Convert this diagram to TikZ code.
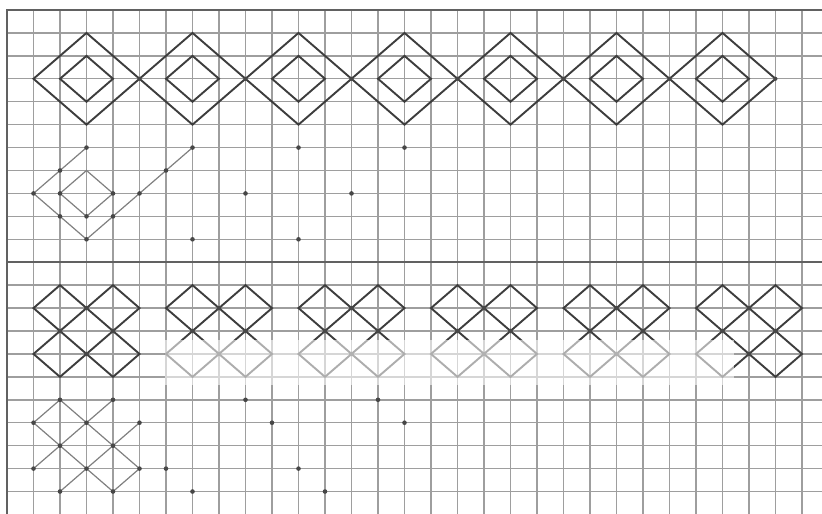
\documentclass[tikz,border=0pt]{standalone}
\begin{document}
\begin{tikzpicture}[x=26.5pt,y=-22.93pt,
  gridline/.style={draw=black!38,line width=1.4pt},
  frameline/.style={draw=black!62,line width=2.2pt},
  motif/.style={draw=black!76,line width=1.9pt,line join=miter},
  guide/.style={draw=black!50,line width=1.2pt},
  dotmark/.style={fill=black!72}]
\useasboundingbox (-0.2642,-0.436) rectangle (30.755,21.98);
\fill[white] (-0.2642,-0.436) rectangle (30.755,21.98);
% grid paper
\foreach \c in {1,...,30} \draw[gridline] (\c,0) -- (\c,21.98);
\foreach \r in {1,...,10,12,13,...,21} \draw[gridline] (0,\r) -- (30.755,\r);
\draw[frameline] (0,21.98) -- (0,0) -- (30.755,0);
\draw[frameline] (0,11) -- (30.755,11);
% top border: nested diamonds
\foreach \k in {0,...,6} {
  \pgfmathsetmacro\cx{3+4*\k}
  \draw[motif] (\cx,1) -- (\cx+2,3) -- (\cx,5) -- (\cx-2,3) -- cycle;
  \draw[motif] (\cx,2) -- (\cx+1,3) -- (\cx,4) -- (\cx-1,3) -- cycle;
}
\foreach \c in {5,9,...,29} \fill[dotmark] (\c,3) circle (2pt);
% top guide
\draw[guide] (3,6) -- (1,8) -- (3,10) -- (7,6);
\draw[guide] (3,7) -- (4,8) -- (3,9) -- (2,8) -- cycle;
\foreach \p in {(3,6),(2,7),(1,8),(2,8),(4,8),(3,9),(2,9),(3,10),(4,9),(5,8),(6,7),(7,6),(7,10),(9,8),(11,6),(15,6),(13,8),(11,10)}
  \fill[dotmark] \p circle (2.3pt);
% bottom border: crossed diamonds
\foreach \k in {0,...,5} {
  \pgfmathsetmacro\ox{5*\k}
  \draw[motif] (\ox+1,13) -- (\ox+2,12) -- (\ox+5,15) -- (\ox+4,16) -- cycle;
  \draw[motif] (\ox+4,12) -- (\ox+5,13) -- (\ox+2,16) -- (\ox+1,15) -- cycle;
  \foreach \p in {(\ox+3,13),(\ox+2,14),(\ox+4,14),(\ox+3,15)}
    \fill[dotmark] \p circle (2.3pt);
}
% bottom guide
\draw[guide] (2,17) -- (1,18) -- (4,21) -- (5,20) -- (2,17);
\draw[guide] (4,17) -- (1,20);
\draw[guide] (5,18) -- (2,21);
\foreach \p in {(2,17),(4,17),(1,18),(3,18),(5,18),(2,19),(4,19),(1,20),(3,20),(5,20),(2,21),(4,21),(6,20),(7,21),(9,17),(10,18),(11,20),(12,21),(14,17),(15,18)}
  \fill[dotmark] \p circle (2.3pt);
% faded watermark band
\fill[white,opacity=0.58] (5.95,14.4) rectangle (27.45,16.35);
\end{tikzpicture}
\end{document}
